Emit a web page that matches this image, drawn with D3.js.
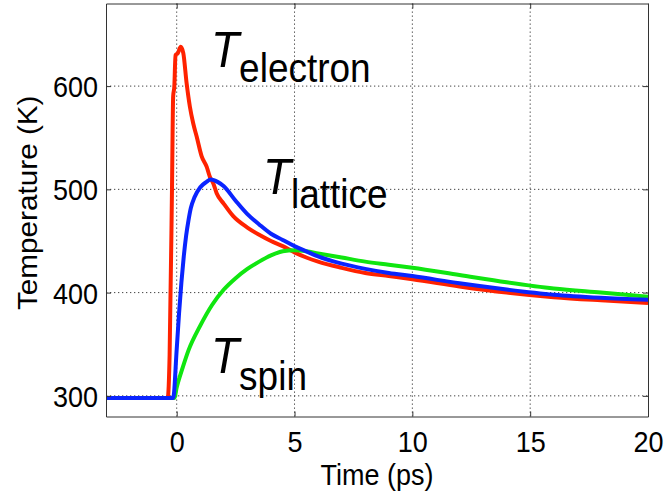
<!DOCTYPE html>
<html>
<head>
<meta charset="utf-8">
<script src="https://cdn.jsdelivr.net/npm/d3@7"></script>
<style>
  html, body { margin: 0; padding: 0; background: #fff; }
  svg { display: block; font-family: "Liberation Sans", Arial, sans-serif; }
</style>
</head>
<body>
<figure style="margin:0"></figure>
<script>
const width = 665
const height = 500
const margin = { top: 3.5, right: 17, bottom: 83.5, left: 106 }
const stretch = 1.1 // the picture is a bit taller than wide, text too

// Data
const timeElectron = [-3, -0.38, -0.3, -0.2, -0.15, -0.1, -0.05, 0.05, 0.17, 0.28, 0.42, 0.56, 0.7, 0.85, 1.06, 1.27, 1.41, 1.55, 1.7, 2, 2.4, 3, 3.5, 4, 4.5, 5, 5.5, 6, 7, 8, 9, 10, 12, 14, 16, 18, 20]
const tempElectron = [298, 298, 340, 500, 590, 600, 630, 632, 638, 632, 603, 580, 564, 551, 532, 522, 512, 506, 496, 486, 474, 463, 456, 450, 445, 439, 434, 430, 424, 419, 416, 413, 406, 400, 395.5, 392.5, 390]

const timeLattice = [-3, -0.15, 0, 0.1, 0.2, 0.3, 0.4, 0.5, 0.6, 0.75, 1, 1.25, 1.45, 1.75, 2, 2.5, 3, 3.5, 4, 4.5, 5, 5.5, 6, 7, 8, 9, 10, 12, 14, 16, 18, 20]
const tempLattice = [298, 298, 345, 380, 410, 435, 455, 470, 482, 492, 502, 507, 509.5, 507, 503, 489, 476, 466, 457, 451, 445, 440, 435, 428, 423, 419, 416, 409, 403, 398, 395, 393]

const timeSpin = [-3, -0.1, 0, 0.25, 0.5, 1, 1.5, 2, 2.5, 3, 3.5, 4, 4.5, 5, 5.5, 6, 7, 8, 9, 10, 12, 14, 16, 18, 20]
const tempSpin = [298, 298, 308, 327, 344, 368, 388, 403, 414, 423, 430, 436, 440, 441, 440, 438, 434, 430, 427, 424, 417, 410, 404, 400, 396]

const seriesNames = ['electron', 'lattice', 'spin']
const seriesColors = ['#ff2200', '#0a24ff', '#10e610']

const xTicks = [0, 5, 10, 15, 20]
const yTicks = [300, 400, 500, 600]
const xDomain = [-3, 20]
const yDomain = [280, 680]

// label anchors, in data units (time, temperature)
const labelTime = [1.46, 3.66, 1.46]
const labelTemp = [618.5, 495.5, 322]

const series = [
  { name: 'electron', t: timeElectron, v: tempElectron },
  { name: 'lattice', t: timeLattice, v: tempLattice },
  { name: 'spin', t: timeSpin, v: tempSpin }
]

const svg = d3.select('figure').append('svg')
  .attr('width', width)
  .attr('height', height)

const innerW = width - margin.left - margin.right
const innerH = height - margin.top - margin.bottom

const g = svg.append('g')
  .attr('transform', `translate(${margin.left},${margin.top})`)

const x = d3.scaleLinear().domain(xDomain).range([0, innerW])
const y = d3.scaleLinear().domain(yDomain).range([innerH, 0])

// dotted grid
g.append('g').selectAll('line')
  .data(xTicks.filter(d => d < xDomain[1]))
  .join('line')
    .attr('x1', d => x(d)).attr('x2', d => x(d))
    .attr('y1', 0).attr('y2', innerH)
    .attr('stroke', '#444')
    .attr('stroke-width', 1)
    .attr('stroke-dasharray', '1.3,2.7')

g.append('g').selectAll('line')
  .data(yTicks)
  .join('line')
    .attr('x1', 0).attr('x2', innerW)
    .attr('y1', d => y(d)).attr('y2', d => y(d))
    .attr('stroke', '#444')
    .attr('stroke-width', 1)
    .attr('stroke-dasharray', '1.3,2.7')

// lines
const line = d3.line()
  .x(d => x(d[0]))
  .y(d => y(d[1]))
  .curve(d3.curveMonotoneX)

const drawOrder = [0, 2, 1]
drawOrder.forEach(i => {
  const s = series[i]
  g.append('path')
    .datum(s.t.map((t, k) => [t, s.v[k]]))
    .attr('d', line)
    .attr('fill', 'none')
    .attr('stroke', seriesColors[i])
    .attr('stroke-width', 4)
    .attr('stroke-linejoin', 'round')
})

// axes, ticks pointing inward like matlab
const axisColor = '#333'
const bottom = g.append('g')
  .attr('transform', `translate(0,${innerH})`)
  .call(d3.axisBottom(x).tickValues(xTicks).tickSize(-5).tickSizeOuter(0))
const left = g.append('g')
  .call(d3.axisLeft(y).tickValues(yTicks).tickSize(-5).tickSizeOuter(0))
g.append('g')
  .call(d3.axisTop(x).tickValues(xTicks).tickSize(-5).tickSizeOuter(0).tickFormat(''))
g.append('g')
  .attr('transform', `translate(${innerW},0)`)
  .call(d3.axisRight(y).tickValues(yTicks).tickSize(-5).tickSizeOuter(0).tickFormat(''))

g.selectAll('.domain, .tick line').attr('stroke', axisColor).attr('stroke-width', 1)

bottom.selectAll('text')
  .attr('y', 0).attr('dy', 0)
  .attr('transform', `translate(0,35.5) scale(1,${stretch})`)
  .attr('fill', '#000')
  .style('font-size', '27px')
  .style('font-family', '"Liberation Sans", Arial, sans-serif')

left.selectAll('text')
  .attr('x', 0).attr('dy', 0)
  .attr('transform', `translate(-8,10.5) scale(1,${stretch})`)
  .attr('fill', '#000')
  .style('font-size', '27px')
  .style('font-family', '"Liberation Sans", Arial, sans-serif')

// axis titles
svg.append('text')
  .attr('transform', `translate(${margin.left + x(8.5)},485) scale(1,${stretch})`)
  .attr('text-anchor', 'middle')
  .style('font-size', '27px')
  .text('Time (ps)')

svg.append('text')
  .attr('transform', `translate(37,${margin.top + y(487)}) rotate(-90) scale(${stretch},1)`)
  .attr('text-anchor', 'middle')
  .style('font-size', '27px')
  .text('Temperature (K)')

// curve labels: T with subscript
const subOffset = [[28, 15.5], [28, 14], [28, 17]]
seriesNames.forEach((name, i) => {
  const px = margin.left + x(labelTime[i])
  const py = margin.top + y(labelTemp[i])
  svg.append('text')
    .attr('transform', `translate(${px},${py}) scale(1,${stretch})`)
    .style('font-size', '46px')
    .style('font-style', 'italic')
    .text('T')
  svg.append('text')
    .attr('transform', `translate(${px + subOffset[i][0]},${py + subOffset[i][1]}) scale(1,${stretch})`)
    .style('font-size', '37px')
    .text(name)
})
</script>
</body>
</html>
